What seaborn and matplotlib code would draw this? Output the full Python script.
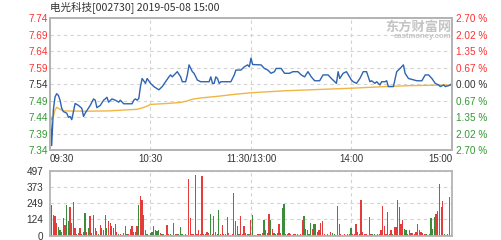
import numpy as np
import pandas as pd
import matplotlib
matplotlib.use("Agg")
import matplotlib.pyplot as plt
import seaborn as sns

# ---------------- data ----------------
title = "电光科技[002730] 2019-05-08 15:00"
pre_close = 7.54
price_labels = ["7.74", "7.69", "7.64", "7.59", "7.54", "7.49", "7.44", "7.39", "7.34"]
pct_labels = ["2.70 %", "2.02 %", "1.35 %", "0.67 %", "0.00 %", "0.67 %", "1.35 %", "2.02 %", "2.70 %"]
time_labels = ["09:30", "10:30", "11:30/13:00", "14:00", "15:00"]
time_ticks = [0, 60, 120, 180, 240]
vol_ticks = [0, 124, 249, 373, 497]

price_min = [0, 1, 2, 3, 4, 5, 6, 7, 8, 10, 11, 12, 13, 15, 17, 19, 20, 21, 24, 26,
             27, 28, 30, 32, 33, 34, 35, 36, 37, 39, 41, 42, 44, 49, 50, 51, 52, 53, 54, 55,
             57, 58, 60, 62, 65, 67, 69, 71, 72, 73, 75, 76, 78, 79, 81, 82, 83, 85, 86, 88,
             90, 95, 96, 97, 98, 99, 100, 101, 102, 108, 110, 111, 114, 116, 118, 119, 120, 121, 126, 128,
             130, 132, 134, 135, 138, 140, 143, 145, 148, 150, 152, 154, 156, 158, 161, 163, 166, 168, 171, 172,
             173, 175, 177, 180, 181, 183, 185, 187, 189, 191, 192, 194, 195, 197, 198, 200, 201, 202, 205, 207,
             209, 211, 212, 214, 219, 222, 224, 226, 228, 230, 232, 233, 235, 236, 238, 239, 240]
price_val = [7.47, 7.35, 7.46, 7.50, 7.51, 7.505, 7.49, 7.465, 7.455, 7.45, 7.437, 7.44, 7.43, 7.48, 7.474, 7.465, 7.44, 7.45, 7.474, 7.494,
             7.49, 7.467, 7.474, 7.49, 7.494, 7.499, 7.484, 7.489, 7.494, 7.49, 7.484, 7.49, 7.479, 7.479, 7.49, 7.494, 7.49, 7.495, 7.532, 7.557,
             7.542, 7.557, 7.542, 7.532, 7.522, 7.532, 7.547, 7.562, 7.568, 7.562, 7.573, 7.578, 7.562, 7.547, 7.547, 7.568, 7.599, 7.578, 7.573, 7.552,
             7.547, 7.547, 7.562, 7.542, 7.542, 7.562, 7.557, 7.542, 7.547, 7.547, 7.568, 7.583, 7.583, 7.593, 7.599, 7.593, 7.62, 7.60, 7.599, 7.588,
             7.583, 7.573, 7.578, 7.588, 7.588, 7.573, 7.573, 7.578, 7.578, 7.568, 7.562, 7.578, 7.562, 7.55, 7.55, 7.568, 7.568, 7.557, 7.542, 7.578,
             7.557, 7.573, 7.578, 7.552, 7.547, 7.542, 7.557, 7.578, 7.578, 7.547, 7.55, 7.542, 7.547, 7.537, 7.547, 7.547, 7.55, 7.532, 7.532, 7.578,
             7.588, 7.599, 7.573, 7.557, 7.55, 7.55, 7.568, 7.568, 7.557, 7.542, 7.537, 7.532, 7.537, 7.532, 7.535, 7.537, 7.542]

avg_min = [0, 1, 2, 3, 4, 6, 8, 20, 35, 45, 52, 55, 58, 60, 70, 78, 82, 85, 90, 100,
           110, 120, 140, 160, 180, 200, 215, 240]
avg_val = [7.44, 7.43, 7.44, 7.46, 7.468, 7.462, 7.457, 7.456, 7.457, 7.46, 7.462, 7.466, 7.472, 7.477, 7.48, 7.483, 7.488, 7.493, 7.497, 7.502,
           7.508, 7.513, 7.519, 7.523, 7.527, 7.532, 7.535, 7.537]

vol_min = list(range(1, 241))
vol = [237, 161, 148, 96, 64, 45, 30, 135, 82, 232, 114, 219, 98, 261, 57, 15, 20, 57, 10, 25,
       174, 25, 57, 153, 20, 161, 57, 35, 15, 82, 57, 40, 161, 57, 109, 98, 70, 57, 90, 30,
       15, 15, 5, 20, 70, 10, 15, 50, 70, 25, 25, 70, 237, 305, 277, 161, 45, 10, 5, 20,
       30, 70, 40, 35, 40, 20, 10, 15, 5, 82, 10, 15, 5, 98, 10, 10, 15, 62, 15, 5,
       10, 5, 436, 135, 10, 15, 470, 15, 40, 15, 457, 15, 15, 30, 20, 169, 10, 148, 30, 10,
       195, 10, 82, 10, 15, 143, 20, 5, 10, 331, 109, 70, 10, 148, 15, 70, 20, 15, 10, 118,
       161, 5, 5, 10, 10, 10, 20, 118, 40, 20, 166, 118, 50, 20, 10, 20, 92, 20, 214, 240,
       10, 10, 20, 10, 5, 10, 15, 10, 5, 15, 118, 152, 50, 40, 10, 100, 50, 92, 92, 30,
       40, 97, 110, 10, 5, 10, 5, 30, 20, 15, 5, 228, 92, 10, 5, 10, 5, 15, 10, 60,
       10, 10, 92, 30, 10, 275, 30, 15, 10, 5, 144, 15, 10, 10, 5, 15, 10, 40, 228, 70,
       15, 178, 15, 40, 10, 65, 65, 275, 223, 90, 118, 50, 40, 10, 40, 20, 20, 10, 30, 92,
       40, 30, 20, 10, 10, 5, 10, 131, 50, 144, 162, 191, 393, 223, 262, 10, 5, 10, 296, 20]
vol_dir = ("grrrggrgrggrrrrgrrgr"
           "grgrrrrrgrrgrgrrggrr"
           "grgrrgrrrrrrgrrrrgrg"
           "grrggrgrgrrgrrgrgggr"
           "rgrrrggrrrrrrrrgrrrg"
           "grrgrrrgrrrrgrrrrrgr"
           "grgrrgrgggrgrgrrrrgg"
           "rgrrgrrgrrrgrrggrggr"
           "rrrrgrrrggrrrrgrrrrg"
           "rrrrgrrrrggrggrgrrrr"
           "rgrrgrrrrrrggrrrrrrr"
           "rrrrgrrgggrgrrrgrgrr")

# ---------------- style ----------------
sns.set_style("white")
plt.rcParams["font.family"] = ["Liberation Sans", "Noto Sans CJK SC", "DejaVu Sans"]

RED = "#ff3030"
GREEN = "#339933"
DARK = "#333333"
FRAME = "#b4b4b4"
GRID = "#d2d2d2"

fig = plt.figure(figsize=(5.02, 2.40), dpi=100)
W, H = 502.0, 240.0
ax = fig.add_axes([50 / W, 1 - 150 / H, 402 / W, 132 / H])
axv = fig.add_axes([50 / W, 1 - 235.5 / H, 402 / W, 64.5 / H])

# ---------------- price panel ----------------
sns.lineplot(x=avg_min, y=avg_val, ax=ax, color="#f0b645", lw=1.0)
sns.lineplot(x=price_min, y=price_val, ax=ax, color="#2e64b0", lw=1.0)

span = pre_close * 0.027
ax.set_xlim(0, 240)
ax.set_ylim(pre_close - span, pre_close + span)
yt = np.linspace(pre_close + span, pre_close - span, len(price_labels))
ax.set_yticks(yt)
ax.set_yticklabels(price_labels)
ax.set_xticks(time_ticks)
ax.set_xticklabels(time_labels)
ax.set_xlabel("")
ax.set_ylabel("")
ax.tick_params(axis="y", length=0, pad=1.5, labelsize=7.2)
ax.tick_params(axis="x", length=0, pad=3, labelsize=7.0, labelcolor=DARK)
lab_colors = [RED] * 4 + [DARK] + [GREEN] * 4
for t, c in zip(ax.get_yticklabels(), lab_colors):
    t.set_color(c)
xl = ax.get_xticklabels()
xl[0].set_horizontalalignment("left")
xl[-1].set_horizontalalignment("right")
ax.grid(True, ls=(0, (3, 3)), color=GRID, lw=0.8)

ax2 = ax.twinx()
ax2.set_ylim(ax.get_ylim())
ax2.set_yticks(yt)
ax2.set_yticklabels(pct_labels)
ax2.tick_params(axis="y", length=0, pad=3, labelsize=7.2)
for t, c in zip(ax2.get_yticklabels(), lab_colors):
    t.set_color(c)
for a in (ax, ax2):
    for s in a.spines.values():
        s.set_color(FRAME)
        s.set_linewidth(1.3)

# ---------------- volume panel ----------------
df = pd.DataFrame({"m": vol_min, "v": vol, "d": list(vol_dir)})
sns.barplot(data=df, x="m", y="v", hue="d", palette={"r": "#ff2020", "g": "#2e9a2e"},
            native_scale=True, dodge=False, width=0.75, errorbar=None, legend=False,
            linewidth=0, ax=axv)
axv.set_xlim(0, 240.5)
axv.set_ylim(0, 497)
axv.set_yticks(vol_ticks)
axv.set_yticklabels([str(v) for v in vol_ticks])
axv.set_xticks([60, 120, 180])
axv.set_xticklabels([])
axv.set_xlabel("")
axv.set_ylabel("")
axv.tick_params(axis="y", length=0, pad=5, labelsize=7.2, labelcolor=DARK)
axv.tick_params(axis="x", length=0)
axv.grid(True, ls=(0, (3, 3)), color=GRID, lw=0.8)
axv.set_axisbelow(True)
for s in axv.spines.values():
    s.set_color(FRAME)
    s.set_linewidth(1.3)

# ---------------- texts ----------------
fig.text(50 / W, 1 - 7.5 / H, title, fontsize=7.6, color=DARK, ha="left", va="center",
         family=["Noto Sans CJK SC", "DejaVu Sans"])
fig.text(452 / W, 1 - 26.5 / H, "东方财富网", fontsize=9.5, color="#c4c4c4", ha="right",
         va="center", fontweight="bold", family=["Noto Sans CJK SC", "DejaVu Sans"])
fig.text(451 / W, 1 - 36 / H, "eastmoney.com", fontsize=5.6, color="#c4c4c4", ha="right",
         va="center", fontweight="bold")

fig.savefig("out.png", dpi=100)
